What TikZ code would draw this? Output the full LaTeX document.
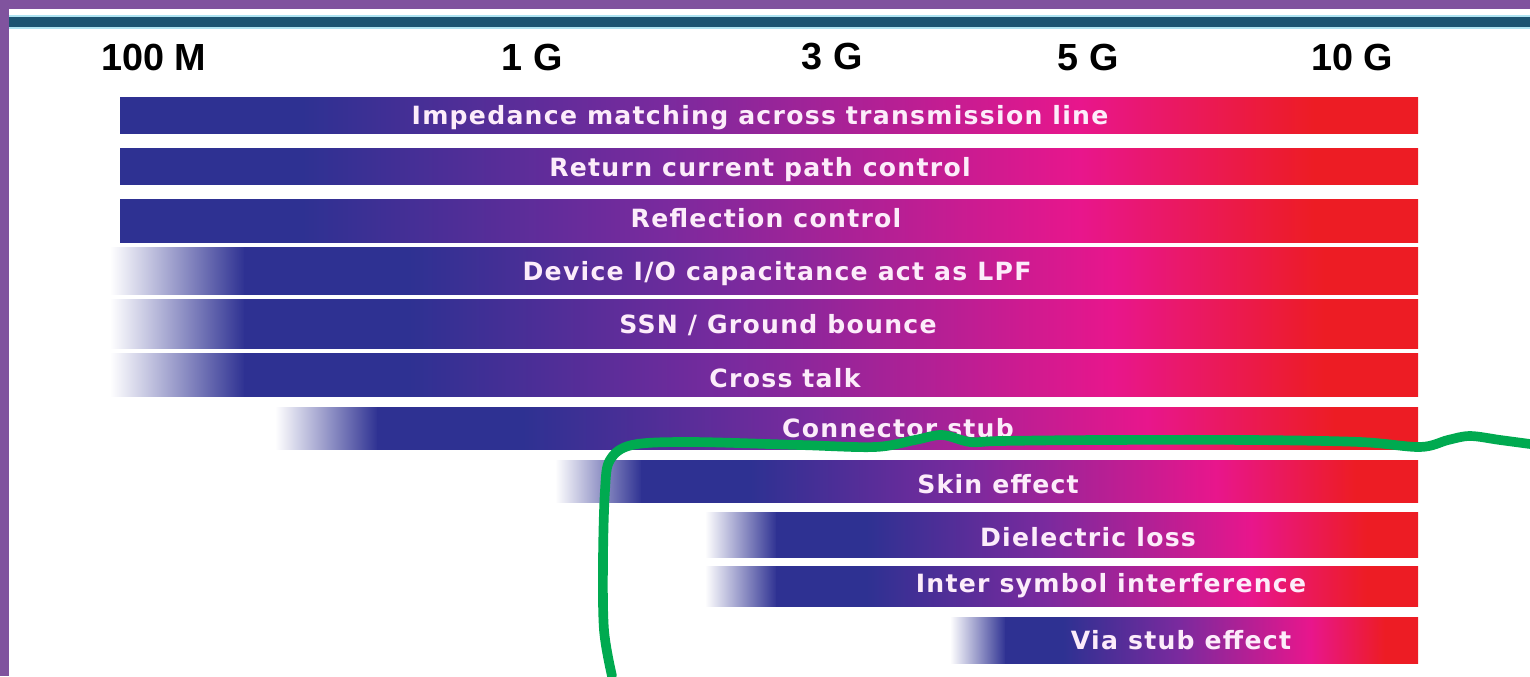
\documentclass[tikz,border=0pt]{standalone}
\usepackage{fontspec}
\setmainfont{Liberation Sans}
\newfontfamily\barfont[LetterSpace=5]{DejaVu Sans}
\usepackage{tikz}
\definecolor{frameclr}{RGB}{128,83,158}
\definecolor{ruleclr}{RGB}{28,84,114}
\definecolor{ruleedge}{RGB}{175,228,242}
\definecolor{lowclr}{RGB}{46,49,146}
\definecolor{midclr}{RGB}{122,42,158}
\definecolor{hiclr}{RGB}{232,22,140}
\definecolor{topclr}{RGB}{237,28,36}
\definecolor{markclr}{RGB}{0,170,80}
\definecolor{txtclr}{RGB}{252,236,250}
\pgfdeclarehorizontalshading{band}{100bp}{color(0bp)=(lowclr); color(25bp)=(lowclr);
  color(32bp)=(lowclr); color(46bp)=(midclr); color(62bp)=(hiclr);
  color(71bp)=(topclr); color(100bp)=(topclr)}
\tikzset{
  freqbar/.style={shading=band,shading angle=0},
  fadein/.style={left color=white,right color=lowclr},
  barlbl/.style={text=txtclr,inner sep=0pt,text height=10.4pt,text depth=0pt,
                 font=\barfont\bfseries\fontsize{14.3}{16}\selectfont},
  freq/.style={inner sep=0pt,font=\bfseries\fontsize{21.5}{24}\selectfont},
  scribble/.style={draw=markclr,line width=5.5pt,line cap=round,line join=round},
}

\begin{document}
\begin{tikzpicture}[x=0.02cm,y=-0.02cm]
\useasboundingbox (0,0) rectangle (1530,676);
\fill[frameclr] (0,0) rectangle (1530,9);
\fill[frameclr] (0,0) rectangle (9,676);
\fill[ruleedge] (9,15) rectangle (1530,29);
\fill[ruleclr] (9,17) rectangle (1530,27);
% frequency marks
\node[freq] (m100) at (154,57) {100 M};
\node[freq] (g1)   at (532,57) {1 G};
\node[freq] (g3)   at (832,57) {3 G};
\node[freq] (g5)   at (1088,57) {5 G};
\node[freq] (g10)  at (1352,57) {10 G};
% bars
\path[freqbar] (120,97) rectangle (1418,133);
\path[freqbar] (120,148) rectangle (1418,184);
\path[freqbar] (120,199) rectangle (1418,242);
\path[fadein] (110,247) rectangle (245,294); \path[freqbar] (244,247) rectangle (1418,294);
\path[fadein] (110,299) rectangle (245,348); \path[freqbar] (244,299) rectangle (1418,348);
\path[fadein] (110,353) rectangle (245,396); \path[freqbar] (244,353) rectangle (1418,396);
\path[fadein] (275,407) rectangle (378,449); \path[freqbar] (377,407) rectangle (1418,449);
\path[fadein] (555,460) rectangle (642,502); \path[freqbar] (641,460) rectangle (1418,502);
\path[fadein] (705,512) rectangle (777,557); \path[freqbar] (776,512) rectangle (1418,557);
\path[fadein] (705,566) rectangle (777,606); \path[freqbar] (776,566) rectangle (1418,606);
\path[fadein] (950,617) rectangle (1006,663); \path[freqbar] (1005,617) rectangle (1418,663);
% labels
\node[barlbl] (imp)   at (760,115) {Impedance matching across transmission line};
\node[barlbl] (ret)   at (760,167) {Return current path control};
\node[barlbl] (refl)  at (766,218) {Reflection control};
\node[barlbl] (dev)   at (777,271) {Device I/O capacitance act as LPF};
\node[barlbl] (ssn)   at (778,324) {SSN / Ground bounce};
\node[barlbl] (xtalk) at (785,378) {Cross talk};
\node[barlbl] (cstub) at (898,428) {Connector stub};
\node[barlbl] (skin)  at (998,484) {Skin effect};
\node[barlbl] (diel)  at (1088,537) {Dielectric loss};
\node[barlbl] (isi)   at (1111,583) {Inter symbol interference};
\node[barlbl] (via)   at (1181,640) {Via stub effect};
% hand-drawn mark
\draw[scribble] plot[smooth,tension=0.55] coordinates {(612,676) (604,630) (603,560)
  (605,490) (610,460) (632,445) (690,442) (800,445) (875,447) (915,440) (942,435)
  (970,442) (1000,441) (1100,440) (1250,440) (1360,442) (1420,447) (1448,440)
  (1470,436) (1500,440) (1530,444)};
\end{tikzpicture}
\end{document}
